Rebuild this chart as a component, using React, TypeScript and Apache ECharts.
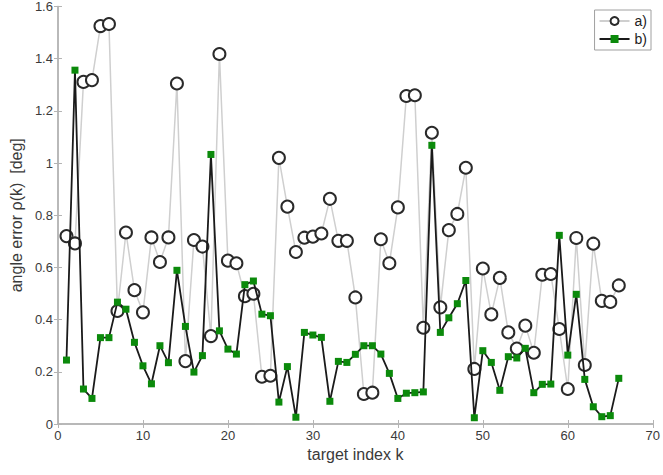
import React, { useEffect, useRef } from "react";
import * as echarts from "echarts";

const kIndex: number[] = Array.from({ length: 66 }, (_, i) => i + 1);

const seriesA: number[] = [
  0.72, 0.692, 1.311, 1.318, 1.525, 1.533, 0.433, 0.734, 0.513, 0.428,
  0.715, 0.621, 0.715, 1.305, 0.241, 0.705, 0.68, 0.337, 1.418, 0.626,
  0.616, 0.49, 0.499, 0.181, 0.185, 1.02, 0.833, 0.659, 0.714, 0.718,
  0.73, 0.863, 0.702, 0.702, 0.485, 0.115, 0.12, 0.708, 0.616, 0.83,
  1.257, 1.26, 0.369, 1.116, 0.447, 0.743, 0.805, 0.982, 0.211, 0.596,
  0.42, 0.56, 0.351, 0.289, 0.377, 0.273, 0.572, 0.575, 0.364, 0.134,
  0.713, 0.226, 0.691, 0.472, 0.468, 0.531,
];

const seriesB: number[] = [
  0.245, 1.356, 0.134, 0.098, 0.331, 0.331, 0.467, 0.44, 0.313, 0.223,
  0.154, 0.3, 0.235, 0.589, 0.374, 0.199, 0.262, 1.033, 0.357, 0.287,
  0.268, 0.534, 0.548, 0.421, 0.415, 0.084, 0.22, 0.026, 0.351, 0.341,
  0.332, 0.087, 0.24, 0.236, 0.267, 0.3, 0.3, 0.268, 0.194, 0.098,
  0.118, 0.12, 0.123, 1.068, 0.351, 0.407, 0.461, 0.55, 0.024, 0.281,
  0.236, 0.129, 0.258, 0.253, 0.29, 0.12, 0.152, 0.153, 0.723, 0.264,
  0.497, 0.171, 0.066, 0.028, 0.032, 0.175,
];

const seriesNames: string[] = ["a)", "b)"];
const xLabel = "target index k";
const yLabel = "angle error \u03c1(k)  [deg]";

const FONT = "Liberation Sans, Arial, Helvetica, sans-serif";
const AXIS_COLOR = "#b4b4b4";
const TEXT_COLOR = "#3a3a3a";

export default function App() {
  const ref = useRef<HTMLDivElement>(null);

  useEffect(() => {
    if (!ref.current) return;
    const chart = echarts.init(ref.current, undefined, { renderer: "svg" });

    const axisLine = { show: true, lineStyle: { color: AXIS_COLOR, width: 1.5 } };
    const axisTick = { show: true, inside: true, length: 4, lineStyle: { color: AXIS_COLOR, width: 1 } };

    chart.setOption({
      animation: false,
      backgroundColor: "#ffffff",
      textStyle: { fontFamily: FONT },
      grid: { left: 53, right: 5, top: 5, bottom: 51, containLabel: false },
      legend: {
        data: seriesNames,
        orient: "vertical",
        right: 12,
        top: 10,
        itemWidth: 30,
        itemHeight: 10,
        itemGap: 4,
        padding: [4, 4, 4, 4],
        borderColor: "#a0a0a0",
        borderWidth: 1,
        backgroundColor: "#ffffff",
        textStyle: { fontSize: 14, color: "#222", fontFamily: FONT },
      },
      xAxis: [
        {
          type: "value",
          min: 0,
          max: 70,
          interval: 10,
          position: "bottom",
          name: xLabel,
          nameLocation: "middle",
          nameGap: 22,
          nameTextStyle: { fontSize: 16, color: TEXT_COLOR, fontFamily: FONT },
          axisLine,
          axisTick,
          axisLabel: { fontSize: 13, color: TEXT_COLOR, margin: 5, fontFamily: FONT },
          splitLine: { show: false },
        },
        {
          type: "value",
          min: 0,
          max: 70,
          interval: 10,
          position: "top",
          axisLine,
          axisTick,
          axisLabel: { show: false },
          splitLine: { show: false },
        },
      ],
      yAxis: [
        {
          type: "value",
          min: 0,
          max: 1.6,
          interval: 0.2,
          position: "left",
          name: yLabel,
          nameLocation: "middle",
          nameGap: 30,
          nameTextStyle: { fontSize: 16, color: TEXT_COLOR, fontFamily: FONT },
          axisLine,
          axisTick,
          axisLabel: { fontSize: 13, color: TEXT_COLOR, margin: 5, fontFamily: FONT },
          splitLine: { show: false },
        },
        {
          type: "value",
          min: 0,
          max: 1.6,
          interval: 0.2,
          position: "right",
          axisLine,
          axisTick,
          axisLabel: { show: false },
          splitLine: { show: false },
        },
      ],
      series: [
        {
          name: seriesNames[0],
          type: "line",
          xAxisIndex: 0,
          yAxisIndex: 0,
          data: kIndex.map((k, i) => [k, seriesA[i]]),
          symbol: "emptyCircle",
          symbolSize: 12,
          lineStyle: { color: "#cfcfcf", width: 1.5 },
          itemStyle: { color: "#2a2a2a", borderWidth: 1.6 },
          z: 2,
        },
        {
          name: seriesNames[1],
          type: "line",
          xAxisIndex: 0,
          yAxisIndex: 0,
          data: kIndex.map((k, i) => [k, seriesB[i]]),
          symbol: "rect",
          symbolSize: 7,
          lineStyle: { color: "#1a1a1a", width: 1.8 },
          itemStyle: { color: "#0b8a0b", borderColor: "#0b8a0b", borderWidth: 0 },
          z: 3,
        },
      ],
    });

    return () => {
      chart.dispose();
    };
  }, []);

  return (
    <div
      ref={ref}
      style={{ position: "fixed", left: 0, top: 0, width: 663, height: 475, background: "#fff" }}
    />
  );
}
